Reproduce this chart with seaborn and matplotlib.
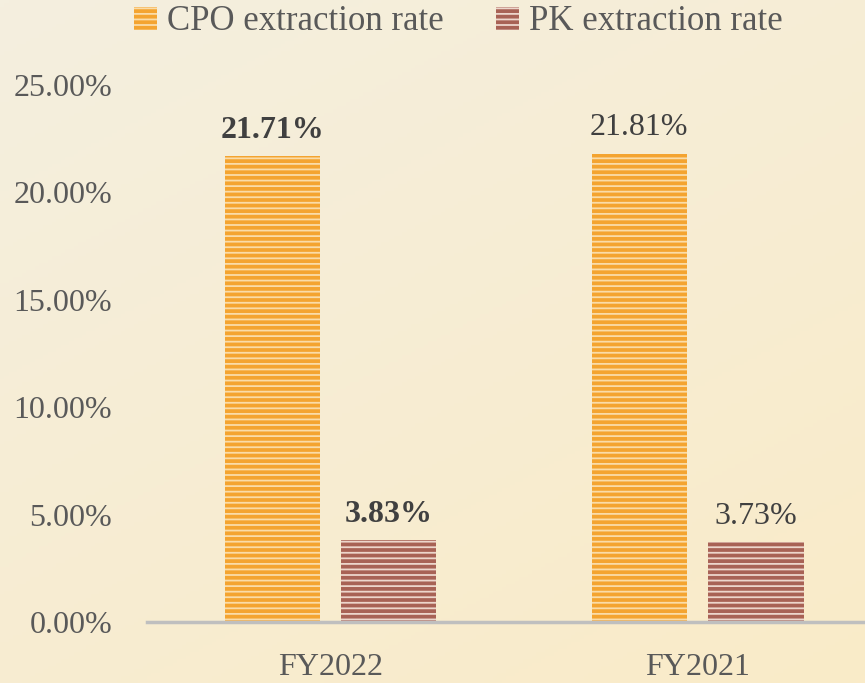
import numpy as np
import pandas as pd
import matplotlib
matplotlib.use("Agg")
import matplotlib.pyplot as plt
from matplotlib.patches import Patch
from matplotlib.colors import LinearSegmentedColormap
import seaborn as sns

# ---- data ----
years = ["FY2022", "FY2021"]
series = ["CPO extraction rate", "PK extraction rate"]
cpo_rate = [21.71, 21.81]
pk_rate = [3.83, 3.73]
y_ticks = [0, 5, 10, 15, 20, 25]

df = pd.DataFrame({
    "year": years * 2,
    "series": [series[0]] * 2 + [series[1]] * 2,
    "value": cpo_rate + pk_rate,
})

sns.set_theme(style="white")
plt.rcParams["font.family"] = ["Liberation Serif", "DejaVu Serif"]
plt.rcParams["hatch.linewidth"] = 1.3

fig = plt.figure(figsize=(8.65, 6.83), dpi=100)

# background gradient
bg = fig.add_axes([0, 0, 1, 1], zorder=-10)
gx, gy = np.meshgrid(np.linspace(0, 1, 200), np.linspace(0, 1, 200))
grad = 0.6 * gy + 0.4 * gx
cmap = LinearSegmentedColormap.from_list("bg", ["#F4EFDF", "#FAEBC8"])
bg.imshow(grad, cmap=cmap, aspect="auto", extent=[0, 1, 0, 1], origin="upper")
bg.axis("off")

ax = fig.add_axes([0.17, 0.0893, 0.83, 0.7862])
ax.patch.set_alpha(0)

face = {series[0]: "#F4A430", series[1]: "#A86255"}
stripe = {series[0]: "#FADCA8", series[1]: "#EDD6CC"}

sns.barplot(data=df, x="year", y="value", hue="series", hue_order=series,
            order=years, palette=face, width=0.636, legend=False, ax=ax,
            errorbar=None, saturation=1)

bar_w = 0.259
for cont, s in zip(ax.containers, series):
    for p in cont:
        c = p.get_x() + p.get_width() / 2
        p.set_width(bar_w)
        p.set_x(c - bar_w / 2)
        p.set_hatch("---")
        p.set_edgecolor(stripe[s])
        p.set_linewidth(0)

# data labels
for ci, cont in enumerate(ax.containers):
    for bi, p in enumerate(cont):
        val = p.get_height()
        weight = "bold" if bi == 0 else "normal"
        ax.annotate(f"{val:.2f}%", (p.get_x() + p.get_width() / 2, val),
                    xytext=(0, 8), textcoords="offset points",
                    ha="center", va="bottom", fontsize=23,
                    fontweight=weight, color="#404040")

ax.set_ylim(0, 25)
ax.set_xlim(-0.5, 1.456)
ax.set_yticks(y_ticks)
ax.set_yticklabels([f"{t:.2f}%" for t in y_ticks])
ax.set_xlabel("")
ax.set_ylabel("")
ax.tick_params(axis="y", length=0, pad=25, labelsize=23, labelcolor="#595959")
ax.tick_params(axis="x", length=0, pad=22, labelsize=23, labelcolor="#595959")
for sp in ["top", "right", "left"]:
    ax.spines[sp].set_visible(False)
ax.spines["bottom"].set_color("#BFBFBF")
ax.spines["bottom"].set_linewidth(2.5)
ax.spines["bottom"].set_zorder(5)

handles = [Patch(facecolor=face[s], edgecolor=stripe[s], hatch="---", linewidth=0)
           for s in series]
fig.legend(handles, series, loc="center", bbox_to_anchor=(0.53, 0.968), ncol=2,
           frameon=False, fontsize=25, handlelength=0.65, handleheight=0.65,
           handletextpad=0.3, columnspacing=1.5, labelcolor="#595959")

fig.savefig("out.png", dpi=100)
